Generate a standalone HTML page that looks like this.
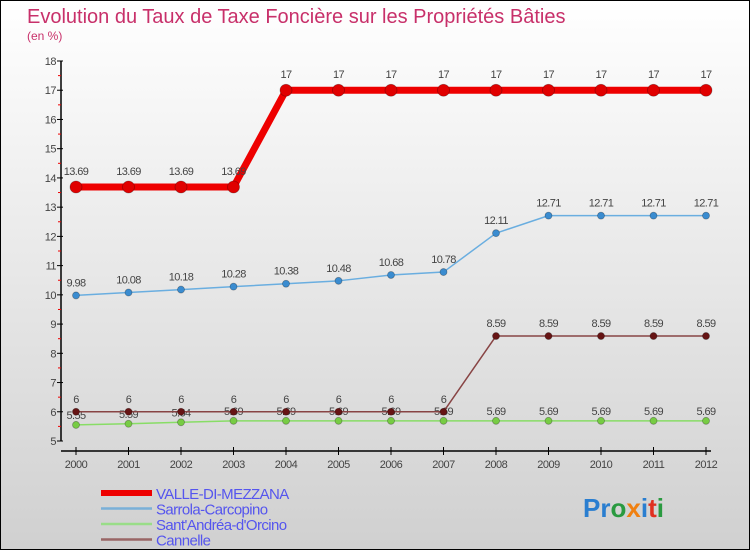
<!DOCTYPE html>
<html><head><meta charset="utf-8">
<style>
html,body{margin:0;padding:0;}
body{width:750px;height:550px;overflow:hidden;font-family:"Liberation Sans",sans-serif;}
#wrap{position:relative;width:748px;height:548px;border:1px solid #000;background:linear-gradient(#ffffff,#d0d0d0);}
svg{position:absolute;left:0;top:0;}
</style></head>
<body>
<div id="wrap">
<svg id="chart" width="748" height="548">
  <text x="26" y="22" font-size="20" fill="#c8306a">Evolution du Taux de Taxe Foncière sur les Propriétés Bâties</text>
  <text x="26" y="39" font-size="12" fill="#c8306a">(en %)</text>
  <g id="axes"></g>
  <g id="series"></g>
  <g id="legend"></g>
  <text x="582" y="516" font-size="26" font-weight="bold"><tspan fill="#2a7ed0">Pr</tspan><tspan fill="#2a9a40">o</tspan><tspan fill="#f08010">x</tspan><tspan fill="#2a7ed0">i</tspan><tspan fill="#e03020">t</tspan><tspan fill="#2a9a40">i</tspan></text>
</svg>
</div>
<script>
const years = [2000,2001,2002,2003,2004,2005,2006,2007,2008,2009,2010,2011,2012];
const valle = [13.69,13.69,13.69,13.69,17,17,17,17,17,17,17,17,17];
const sarrola = [9.98,10.08,10.18,10.28,10.38,10.48,10.68,10.78,12.11,12.71,12.71,12.71,12.71];
const santAndrea = [5.55,5.59,5.64,5.69,5.69,5.69,5.69,5.69,5.69,5.69,5.69,5.69,5.69];
const cannelle = [6,6,6,6,6,6,6,6,8.59,8.59,8.59,8.59,8.59];
const yTicks = [5,6,7,8,9,10,11,12,13,14,15,16,17,18];
const seriesNames = ["VALLE-DI-MEZZANA","Sarrola-Carcopino","Sant'Andréa-d'Orcino","Cannelle"];

const NS="http://www.w3.org/2000/svg";
const yMin=5,yMax=18,py0=440,py1=60,px0=75,px1=705;
function xs(i){return px0+(px1-px0)*i/(years.length-1);}
function ys(v){return py0-(v-yMin)*(py0-py1)/(yMax-yMin);}
function mk(tag,attrs,parent){const e=document.createElementNS(NS,tag);for(const k in attrs)e.setAttribute(k,attrs[k]);parent.appendChild(e);return e;}
function fmt(v){return String(v);}

const axes=document.getElementById('axes');
let a=mk('line',{x1:60,y1:py1,x2:60,y2:py0,stroke:'#000','stroke-width':1.5},axes);


a=mk('line',{x1:60,y1:py0+10,x2:px1+5,y2:py0+10,stroke:'#000','stroke-width':1.5},axes);


yTicks.forEach((t,i)=>{
  const y=ys(t);
  mk('line',{x1:56,y1:y,x2:62,y2:y,stroke:'#000'},axes);
  const tx=mk('text',{x:55,y:y+4,'font-size':11,fill:'#444','text-anchor':'end','letter-spacing':'-0.5'},axes);
  tx.textContent=t;
  
  
  if(i<yTicks.length-1){const m=ys(t+0.5);mk('line',{x1:57,y1:m,x2:60,y2:m,stroke:'#e00'},axes);}
});
years.forEach((yr,i)=>{
  const x=xs(i);
  mk('line',{x1:x,y1:py0+6,x2:x,y2:py0+14,stroke:'#000'},axes);
  const tx=mk('text',{x:x,y:py0+27,'font-size':11,fill:'#444','text-anchor':'middle','letter-spacing':'-0.5'},axes);
  tx.textContent=yr;
  
  
});

const sg=document.getElementById('series');
function draw(vals,name,color,lw,r,dotFill,labelDy){
  const g=mk('g',{},sg);
  
  
  const pts=vals.map((v,i)=>xs(i)+','+ys(v)).join(' ');
  const pl=mk('polyline',{points:pts,fill:'none',stroke:color,'stroke-width':lw,'stroke-linejoin':'round'},g);
  
  
  vals.forEach((v,i)=>{
    const c=mk('circle',{cx:xs(i),cy:ys(v),r:r,fill:dotFill,stroke:'rgba(0,0,0,0.3)','stroke-width':0.8},g);
    
    
    const t=mk('text',{x:xs(i),y:ys(v)+labelDy,'font-size':11,fill:'#444','text-anchor':'middle','letter-spacing':'-0.6'},g);
    t.textContent=fmt(v);
    
    
  });
}
draw(santAndrea,'sant-andrea','#88dd66',1.5,3.5,'#77cc44',-6);
draw(cannelle,'cannelle','#884444',1.5,3.5,'#661414',-9);
draw(sarrola,'sarrola','#6aaee0',1.5,3.5,'#3a8cd0',-9);
draw(valle,'valle-di-mezzana','#ee0000',7,6,'#e00000',-12);

const lg=document.getElementById('legend');
const lcol=['#ee0000','#7ab0d8','#99dd88','#996666'];
const lw=[6,2.5,2.5,2.5];
seriesNames.forEach((n,i)=>{
  const y=492+i*15.5;
  const l=mk('line',{x1:100,y1:y,x2:151,y2:y,stroke:lcol[i],'stroke-width':lw[i]},lg);
  
  
  const t=mk('text',{x:155,y:y+6,'font-size':15,fill:'#5555ee','letter-spacing':'-0.6'},lg);
  t.textContent=n;
  
  
});
</script>
</body></html>
